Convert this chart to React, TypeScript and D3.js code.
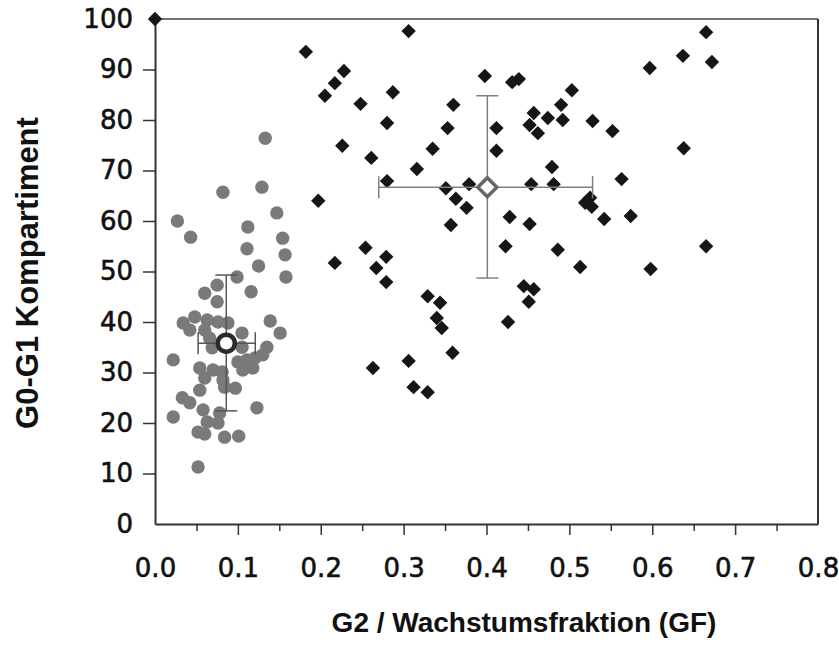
import React, { useRef, useEffect } from 'react';
import * as d3 from 'd3';

// grey circles (low growth fraction group)
const circleX = [0.133, 0.082, 0.129, 0.147, 0.027, 0.112, 0.043, 0.154, 0.111, 0.157, 0.125, 0.158, 0.099, 0.075, 0.060,
  0.075, 0.116, 0.139, 0.151, 0.034, 0.048, 0.063, 0.076, 0.088, 0.042, 0.060, 0.066, 0.105, 0.069, 0.105,
  0.022, 0.135, 0.130, 0.121, 0.111, 0.100, 0.106, 0.118, 0.054, 0.070, 0.081, 0.060, 0.082, 0.097, 0.084,
  0.054, 0.033, 0.042, 0.123, 0.058, 0.078, 0.063, 0.076, 0.022, 0.052, 0.060, 0.084, 0.101, 0.052];
const circleY = [76.4, 65.7, 66.7, 61.6, 60.0, 58.8, 56.8, 56.6, 54.5, 53.3, 51.1, 48.9, 48.9, 47.3, 45.7,
  44.0, 46.0, 40.2, 37.8, 39.8, 41.0, 40.4, 40.0, 39.8, 38.4, 38.4, 36.8, 37.8, 34.9, 35.0,
  32.5, 35.0, 33.5, 32.9, 32.5, 32.1, 30.5, 30.9, 30.9, 30.5, 30.1, 28.9, 28.5, 26.9, 27.1,
  26.5, 25.0, 24.0, 23.0, 22.6, 22.0, 20.2, 20.0, 21.2, 18.2, 17.8, 17.2, 17.4, 11.3];

// black diamonds (high growth fraction group)
const diamondX = [0.000, 0.182, 0.306, 0.228, 0.217, 0.205, 0.248, 0.287, 0.280, 0.226, 0.261, 0.316, 0.280, 0.335, 0.353,
  0.360, 0.398, 0.431, 0.439, 0.412, 0.412, 0.351, 0.379, 0.457, 0.452, 0.462, 0.474, 0.490, 0.492, 0.503,
  0.479, 0.454, 0.481, 0.197, 0.665, 0.637, 0.672, 0.597, 0.528, 0.552, 0.638, 0.563, 0.363, 0.376, 0.357,
  0.428, 0.452, 0.423, 0.486, 0.513, 0.254, 0.279, 0.217, 0.267, 0.279, 0.445, 0.457, 0.451, 0.329, 0.344,
  0.340, 0.346, 0.426, 0.359, 0.306, 0.263, 0.312, 0.329, 0.525, 0.519, 0.527, 0.542, 0.574, 0.665, 0.598];
const diamondY = [100, 93.5, 97.6, 89.7, 87.3, 84.8, 83.2, 85.5, 79.4, 74.9, 72.5, 70.3, 67.9, 74.3, 78.4,
  83.0, 88.7, 87.5, 88.1, 78.4, 73.9, 66.5, 67.3, 81.4, 79.0, 77.4, 80.4, 83.0, 80.0, 85.9,
  70.7, 67.3, 67.3, 64.0, 97.4, 92.7, 91.5, 90.3, 79.8, 77.8, 74.4, 68.3, 64.4, 62.6, 59.2,
  60.8, 59.4, 55.0, 54.3, 50.9, 54.7, 52.9, 51.7, 50.7, 47.9, 47.1, 46.5, 44.0, 45.1, 43.8,
  40.8, 38.8, 40.0, 33.9, 32.3, 30.9, 27.1, 26.1, 64.6, 63.6, 62.8, 60.4, 61.0, 55.0, 50.5];

// group means with error ranges: [x, y, xLow, xHigh, yLow, yHigh]
const circleMean = [0.086, 35.8, 0.052, 0.121, 22.4, 49.3];
const diamondMean = [0.401, 66.7, 0.270, 0.528, 48.7, 84.8];

const xLabels = [0, 0.1, 0.2, 0.3, 0.4, 0.5, 0.6, 0.7, 0.8];
const xMinor = [0.05, 0.15, 0.25, 0.35, 0.45, 0.55, 0.65, 0.75];
const yTicks = [10, 20, 30, 40, 50, 60, 70, 80, 90];
const yLabels = [0, 10, 20, 30, 40, 50, 60, 70, 80, 90, 100];

const FONT = '"Liberation Sans", Arial, Helvetica, sans-serif';
const TICK_FONT = '"DejaVu Sans", Arial, sans-serif';

const Scatter = () => {
  const ref = useRef(null);

  useEffect(() => {
    const width = 839;
    const height = 652;
    const left = 155, right = 818, top = 19, bottom = 524;

    const svg = d3.select(ref.current);
    svg.selectAll('*').remove();
    svg.attr('width', width).attr('height', height);

    const x = d3.scaleLinear().domain([0, 0.8]).range([left, right]);
    const y = d3.scaleLinear().domain([0, 100]).range([bottom, top]);

    // frame top / right
    svg.append('line').attr('x1', left).attr('x2', right).attr('y1', top).attr('y2', top)
      .attr('stroke', '#444').attr('stroke-width', 1.5);
    svg.append('line').attr('x1', right).attr('x2', right).attr('y1', top).attr('y2', bottom)
      .attr('stroke', '#333').attr('stroke-width', 2);

    const styleLabels = sel => sel
      .attr('font-family', TICK_FONT).attr('font-size', 26).attr('fill', '#111')
      .attr('stroke', '#111').attr('stroke-width', 0.6);

    // y axis
    const yAxis = svg.append('g')
      .attr('transform', `translate(${left},0)`)
      .call(d3.axisLeft(y).tickValues(yLabels).tickSize(12).tickSizeOuter(0).tickPadding(10));
    yAxis.selectAll('.tick line').filter(d => !yTicks.includes(d)).remove();
    yAxis.select('.domain').attr('stroke', '#333').attr('stroke-width', 2);
    yAxis.selectAll('.tick line').attr('stroke', '#333').attr('stroke-width', 1.5);
    styleLabels(yAxis.selectAll('text'));

    // x axis
    const xAxis = svg.append('g')
      .attr('transform', `translate(0,${bottom})`)
      .call(d3.axisBottom(x).tickValues(xLabels).tickSize(11).tickSizeOuter(0).tickPadding(24)
        .tickFormat(d3.format('.1f')));
    xAxis.selectAll('.tick line').filter(d => d === 0 || d === 0.8).remove();
    xAxis.select('.domain').attr('stroke', '#333').attr('stroke-width', 2);
    xAxis.selectAll('.tick line').attr('stroke', '#333').attr('stroke-width', 1.5);
    styleLabels(xAxis.selectAll('text'));

    const minor = svg.append('g')
      .attr('transform', `translate(0,${bottom})`)
      .call(d3.axisBottom(x).tickValues(xMinor).tickSize(7).tickFormat(() => ''));
    minor.select('.domain').remove();
    minor.selectAll('.tick line').attr('stroke', '#333').attr('stroke-width', 1.5);

    // circles
    svg.append('g').selectAll('circle')
      .data(circleX.map((v, i) => [v, circleY[i]]))
      .enter()
      .append('circle')
      .attr('cx', d => x(d[0]))
      .attr('cy', d => y(d[1]))
      .attr('r', 6.7)
      .attr('fill', '#7a7a7a');

    // diamonds
    const dm = 7.2;
    const diamondPath = (cx, cy, h) => `M${cx},${cy - h}L${cx + h},${cy}L${cx},${cy + h}L${cx - h},${cy}Z`;
    svg.append('g').selectAll('path')
      .data(diamondX.map((v, i) => [v, diamondY[i]]))
      .enter()
      .append('path')
      .attr('d', d => diamondPath(x(d[0]), y(d[1]), dm))
      .attr('fill', '#161616');

    // error bars
    const cap = 11;
    const errorBars = (m, color) => {
      const g = svg.append('g').attr('stroke', color).attr('stroke-width', 1.5).attr('fill', 'none');
      const cx = x(m[0]), cy = y(m[1]);
      g.append('line').attr('x1', x(m[2])).attr('x2', x(m[3])).attr('y1', cy).attr('y2', cy);
      g.append('line').attr('x1', cx).attr('x2', cx).attr('y1', y(m[4])).attr('y2', y(m[5]));
      g.append('line').attr('x1', x(m[2])).attr('x2', x(m[2])).attr('y1', cy - cap).attr('y2', cy + cap);
      g.append('line').attr('x1', x(m[3])).attr('x2', x(m[3])).attr('y1', cy - cap).attr('y2', cy + cap);
      g.append('line').attr('x1', cx - cap).attr('x2', cx + cap).attr('y1', y(m[4])).attr('y2', y(m[4]));
      g.append('line').attr('x1', cx - cap).attr('x2', cx + cap).attr('y1', y(m[5])).attr('y2', y(m[5]));
    };
    errorBars(circleMean, '#555');
    errorBars(diamondMean, '#808080');

    svg.append('circle')
      .attr('cx', x(circleMean[0])).attr('cy', y(circleMean[1])).attr('r', 8.5)
      .attr('fill', '#fff').attr('stroke', '#2a2a2a').attr('stroke-width', 4.5);
    svg.append('path')
      .attr('d', diamondPath(x(diamondMean[0]), y(diamondMean[1]), 9.5))
      .attr('fill', '#fff').attr('stroke', '#666').attr('stroke-width', 3.5);

    // axis titles
    svg.append('text')
      .attr('x', 524).attr('y', 632)
      .attr('text-anchor', 'middle')
      .attr('font-family', FONT).attr('font-weight', 'bold').attr('font-size', 28)
      .attr('fill', '#111')
      .text('G2 / Wachstumsfraktion (GF)');
    svg.append('text')
      .attr('transform', 'translate(38,273) rotate(-90)')
      .attr('text-anchor', 'middle')
      .attr('font-family', FONT).attr('font-weight', 'bold').attr('font-size', 31)
      .attr('fill', '#111')
      .text('G0-G1 Kompartiment');
  }, []);

  return <svg ref={ref} style={{ position: 'absolute', left: 0, top: 0, display: 'block', background: '#fff' }} />;
};

export default function App() {
  return <Scatter />;
}
